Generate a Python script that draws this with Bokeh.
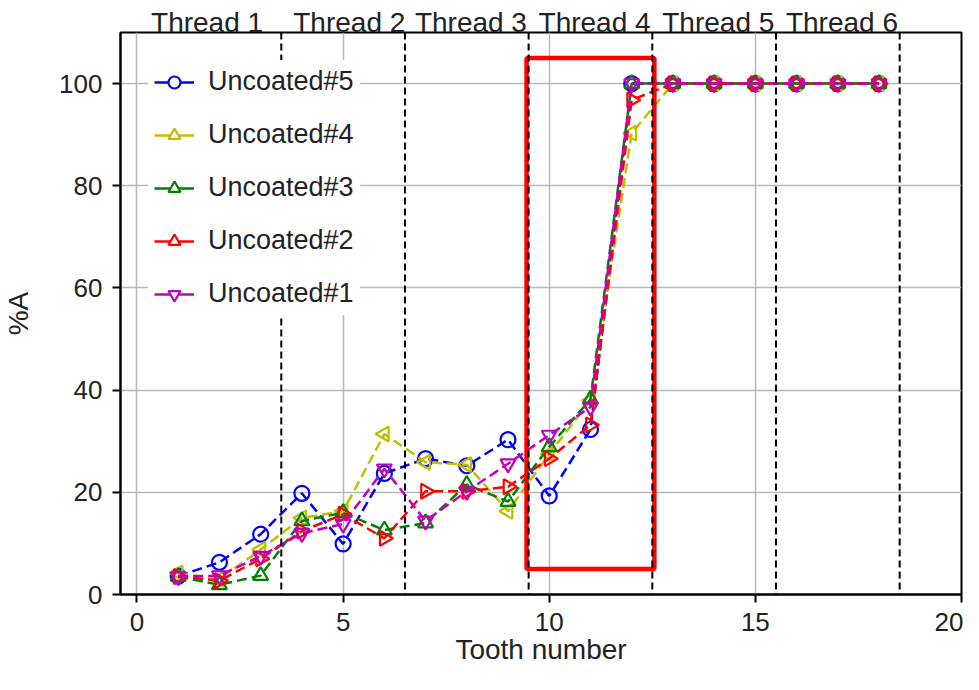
import math
from bokeh.plotting import figure
from bokeh.models import (Span, BoxAnnotation, Legend, LegendItem, LinearAxis,
                          FixedTicker)
from bokeh.embed import file_html
from bokeh.resources import INLINE

# ---------------- data ----------------
tooth = list(range(1, 19))
uncoated5 = [3.6, 6.3, 11.8, 19.8, 9.9, 23.7, 26.6, 25.2, 30.3, 19.3, 32.3,
             100, 100, 100, 100, 100, 100, 100]
uncoated4 = [4.2, 3.0, 8.8, 15.0, 16.3, 31.4, 25.9, 25.4, 16.3, 27.5, 38.0,
             90.3, 100, 100, 100, 100, 100, 100]
uncoated3 = [3.5, 1.9, 3.7, 14.4, 16.0, 12.6, 14.0, 21.5, 18.2, 28.9, 38.2,
             100, 100, 100, 100, 100, 100, 100]
uncoated2 = [3.5, 2.7, 7.0, 12.4, 15.7, 11.0, 20.2, 20.2, 21.1, 26.6, 33.2,
             96.8, 100, 100, 100, 100, 100, 100]
uncoated1 = [3.5, 3.7, 7.5, 12.0, 13.8, 24.6, 14.4, 20.2, 25.6, 31.2, 36.7,
             100, 100, 100, 100, 100, 100, 100]

series_names = ["Uncoated#5", "Uncoated#4", "Uncoated#3", "Uncoated#2", "Uncoated#1"]
series_values = [uncoated5, uncoated4, uncoated3, uncoated2, uncoated1]

thread_labels = ["Thread 1", "Thread 2", "Thread 3", "Thread 4", "Thread 5", "Thread 6"]
thread_label_x = [1.7, 5.15, 8.1, 11.1, 14.1, 17.1]
thread_bounds = [3.5, 6.5, 9.5, 12.5, 15.5, 18.5]

x_ticks = [0, 5, 10, 15, 20]
y_ticks = [0, 20, 40, 60, 80, 100]

highlight_left, highlight_right = 9.45, 12.55
highlight_bottom, highlight_top = 5, 105

# ---------------- styles ----------------
colors = ["#0000ff", "#bfbf00", "#008000", "#ff0000", "#bf00bf"]
markers = ["circle", "triangle", "triangle", "triangle", "inverted_triangle"]
angles = [0, math.pi / 2, 0, -math.pi / 2, 0]
FONT = "Liberation Sans"
TXT = "#222222"
NAN = float("nan")

p = figure(width=963, height=674, x_range=(-0.4, 20), y_range=(0, 110),
           output_backend="svg", toolbar_location=None,
           min_border_left=120, min_border_right=2, min_border_top=32,
           min_border_bottom=80, background_fill_color="white",
           border_fill_color="white")

p.outline_line_color = "black"
p.outline_line_width = 2
p.outline_line_alpha = 1

p.grid.grid_line_color = "#b8b8b8"
p.grid.grid_line_width = 1.5

p.xaxis.ticker = x_ticks
p.yaxis.ticker = y_ticks
for ax in (p.xaxis, p.yaxis):
    ax.axis_line_color = "black"
    ax.axis_line_width = 2
    ax.major_tick_line_color = "black"
    ax.major_tick_line_width = 2
    ax.major_tick_out = 8
    ax.major_tick_in = 0
    ax.minor_tick_out = 0
    ax.minor_tick_in = 0
    ax.major_label_text_font = FONT
    ax.major_label_text_font_size = "26px"
    ax.major_label_text_color = TXT
    ax.axis_label_text_font = FONT
    ax.axis_label_text_font_size = "28px"
    ax.axis_label_text_font_style = "normal"
    ax.axis_label_text_color = TXT
p.xaxis.major_label_standoff = 10
p.yaxis.major_label_standoff = 10
p.xaxis.axis_label = "Tooth number"
p.yaxis.axis_label = "%A"
p.xaxis.axis_label_standoff = 0
p.yaxis.axis_label_standoff = 22

# thread names on a top axis
top = LinearAxis(ticker=FixedTicker(ticks=thread_label_x),
                 major_label_overrides={x: t for x, t in zip(thread_label_x, thread_labels)},
                 axis_line_color=None, major_tick_line_color=None,
                 minor_tick_line_color=None, major_tick_out=0, major_tick_in=0,
                 minor_tick_out=0, minor_tick_in=0, major_label_standoff=-5,
                 major_label_text_font=FONT, major_label_text_font_size="28px",
                 major_label_text_color=TXT)
p.add_layout(top, "above")

# data
legend_items = []
for name, vals, col, mk, ang in zip(series_names, series_values, colors, markers, angles):
    p.line(tooth, vals, line_color=col, line_width=2.5, line_dash="10 5")
    p.scatter(tooth, vals, marker=mk, angle=ang, size=15, line_color=col,
              line_width=2.2, fill_alpha=0)
    # legend-only renderers (solid handle), holding no drawable point
    lr = p.line(x=[NAN], y=[NAN], line_color=col, line_width=2.5)
    sr = p.scatter(x=[NAN], y=[NAN], marker=mk, angle=ang, size=15, line_color=col,
                   line_width=2.2, fill_color="white", fill_alpha=1)
    legend_items.append(LegendItem(label=name, renderers=[lr, sr]))

# highlight box
p.add_layout(BoxAnnotation(left=highlight_left, right=highlight_right,
                           bottom=highlight_bottom, top=highlight_top,
                           fill_alpha=0, line_color="#ff0000", line_alpha=1,
                           line_width=4.5))

# thread boundaries
for b in thread_bounds:
    p.add_layout(Span(location=b, dimension="height", line_color="black",
                      line_width=2, line_dash="7 4"))

legend = Legend(items=legend_items, location="top_left", margin=28, padding=6,
                spacing=22, glyph_width=40, glyph_height=30, label_height=30,
                label_standoff=14, background_fill_color="white",
                background_fill_alpha=1, border_line_alpha=0,
                label_text_font=FONT, label_text_font_size="27px",
                label_text_color=TXT)
p.add_layout(legend)

open("out.html", "w").write(file_html(p, INLINE))
